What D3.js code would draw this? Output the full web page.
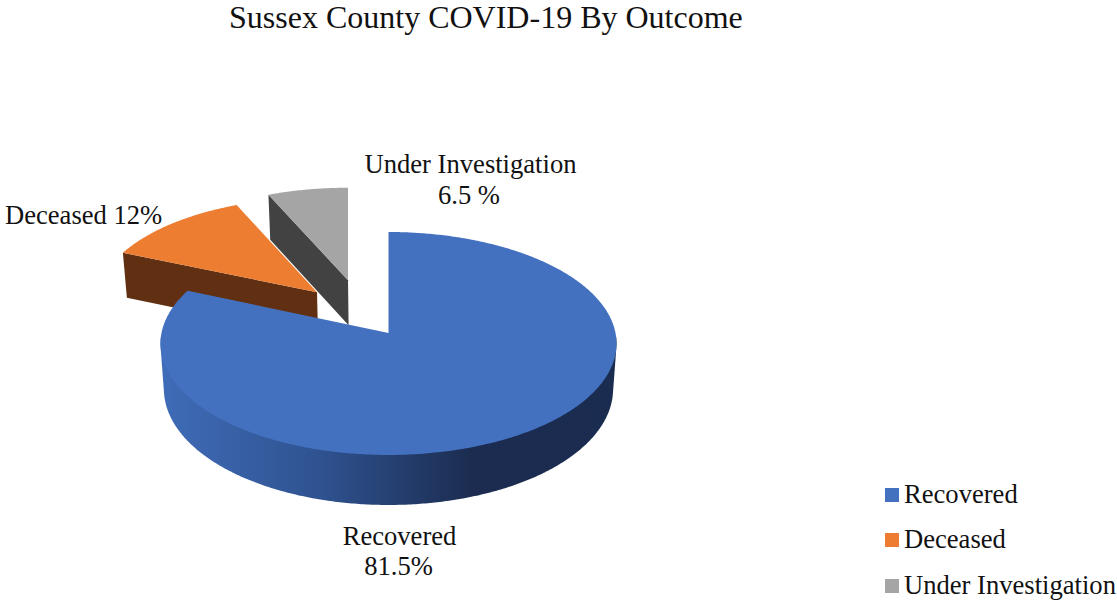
<!DOCTYPE html>
<html><head><meta charset="utf-8">
<script src="https://cdn.jsdelivr.net/npm/d3@7"></script>
<style>html,body{margin:0;padding:0;background:#fff;overflow:hidden}text{font-family:"Liberation Serif",serif;fill:#111}</style>
</head><body><svg id="c" width="1117" height="600"></svg>
<script>
const chartTitle = "Sussex County COVID-19 By Outcome";
const categories = ["Recovered", "Deceased", "Under Investigation"];
const values = [81.5, 12, 6.5];
const colors = ["#4371c0", "#ed7d31", "#a5a5a5"];
const wallColors = [null, "#613012", "#424242"];

const svg = d3.select("#c");
const color = d3.scaleOrdinal(categories, colors);
const cx = 388.5, cy = 333, R = 227, H = 110.5, persp = 0.094, depth = 45, bottomScale = 0.985;
const explode = {Recovered:[0,0], Deceased:[-71.5,0.382], "Under Investigation":[-40.5,0.5]};

function pt(a, r, off, bottom){
  const V = off[1] + r*Math.cos(a), s = 1/(1+persp*V);
  let x = cx + off[0] + R*r*Math.sin(a)*s, y = cy - H*V*s;
  if (bottom){ x = cx + (x-cx)*bottomScale; y += depth + 5*Math.max(0,-V); }
  return [x,y];
}
function arcPts(a0,a1,off,bottom){
  const n = Math.max(2,Math.ceil((a1-a0)/0.01));
  return d3.range(n+1).map(i=>pt(a0+(a1-a0)*i/n,1,off,bottom));
}
const line = d3.line();
const arcs = d3.pie().sort(null).value(d=>d.v)(categories.map((c,i)=>({c,v:values[i]})));

const defs = svg.append("defs");
const g = defs.append("linearGradient").attr("id","wall").attr("gradientUnits","userSpaceOnUse")
  .attr("x1",161).attr("x2",618).attr("y1",0).attr("y2",0);
g.append("stop").attr("offset",0).attr("stop-color","#3f6cb8");
g.append("stop").attr("offset",0.35).attr("stop-color","#2f5290");
g.append("stop").attr("offset",0.68).attr("stop-color","#1b2c50");
g.append("stop").attr("offset",1).attr("stop-color","#1a2c50");

// back to front
[2,1,0].forEach(i=>{
  const d = arcs[i], name = d.data.c, off = explode[name];
  const a0 = d.startAngle, a1 = d.endAngle;
  if (i===0){
    const f0 = Math.PI*92/180, f1 = Math.PI*268/180;
    const hull = d3.polygonHull(arcPts(f0,f1,off,false).concat(arcPts(f0,f1,off,true)));
    svg.append("path").attr("d",line(hull)+"Z").attr("fill","url(#wall)");
  } else {
    const ap = pt(0,0,off,false), apB = pt(0,0,off,true);
    const e = pt(a0,1,off,false), eB = pt(a0,1,off,true);
    svg.append("path").attr("d",line([ap,apB,eB,e])+"Z").attr("fill",wallColors[i]);
  }
  const topPts = [pt(0,0,off,false)].concat(arcPts(a0,a1,off,false));
  svg.append("path").attr("d",line(topPts)+"Z").attr("fill",color(name));
});

svg.append("text").attr("x",229).attr("y",28).attr("font-size",32).text(chartTitle);

const labels = [
  {t:"Under Investigation",x:470.5,y:173,a:"middle"},
  {t:"6.5 %",x:469,y:204,a:"middle"},
  {t:"Deceased 12%",x:5,y:224,a:"start"},
  {t:"Recovered",x:399.5,y:545,a:"middle"},
  {t:"81.5%",x:398.5,y:575,a:"middle"}
];
svg.selectAll("text.l").data(labels).join("text").attr("class","l")
  .attr("x",d=>d.x).attr("y",d=>d.y).attr("text-anchor",d=>d.a).attr("font-size",26.6).text(d=>d.t);

const legY = d3.scaleOrdinal(categories,[503,548,594]);
categories.forEach(c=>{
  svg.append("rect").attr("x",885).attr("y",legY(c)-15).attr("width",14).attr("height",14).attr("fill",color(c));
  svg.append("text").attr("x",904).attr("y",legY(c)).attr("font-size",26.6).text(c);
});
</script></body></html>
